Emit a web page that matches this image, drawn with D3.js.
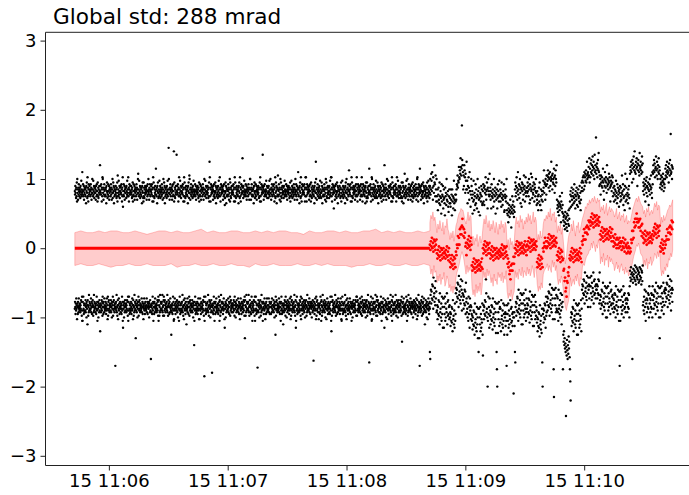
<!DOCTYPE html>
<html><head><meta charset="utf-8">
<script src="https://cdn.jsdelivr.net/npm/d3@7"></script>
<style>html,body{margin:0;padding:0;background:#fff;overflow:hidden}</style>
</head><body><svg id="c" width="689" height="495" style="display:block;background:#fff"></svg>
<script>
// ---------- text / ticks ----------
const titleText = "Global std: 288 mrad";
const yTicks = [-3, -2, -1, 0, 1, 2, 3];
const xTickTimes = ["11:06:00.000", "11:07:00.000", "11:08:00.000", "11:09:00.000", "11:10:00.000"];
const day = "2023-03-15";
const axisStart = "11:05:28.000", axisEnd = "11:11:00.000";
const timeStart = "11:05:42.800", timeSplit = "11:08:42.100", timeEnd = "11:10:44.700";
const yMin = -3.14, yMax = 3.12;

// ---------- value code: value = lo + index * STEP ----------
const CODE = "0123456789abcdefghijklmnopqrstuvwxyzABCDEFGHIJKLMNOPQRSTUVWXYZ!#$%&()*+,-./:;<=>?@[]^_{|}~";
const STEP = 0.025;
const blackLo = 0.2;   // black upper values, and |value| of black lower
const redLo = -1.0;    // red points and band edges

// upper black branch, before the split
const upperFirst = [
"pnsoqlrmujwoqkrntpmqorlspnvmqoApntmpskqornqmrispuolxmrjqtnospqmptnrkqow",
"oqmvnpslroroqkspmtnpjumrlqosnpEpsontqjrmxwoqkrntpmqnqmrispuolpntmpskqor",
"qmptnrkqowloupsirmqnpnsoqlrmujyoqmvnpslropsontqjrmxgpntmpskqororlspnvmqo",
"xmrjqtnosppnsoqlrmujpntmpskqorqmptnrkqowzoqmvnpslronqmrispuoljumrlqosnp",
"roqkspmtnpwoqkrntpmqpsontqjrmxjumrlqosnpCnqmrispuoloqmvnpslroqmptnrkqow",
"loupsirmqnorlspnvmqoOwoqkrntpmqroqkspmtnpMjumrlqosnpKpsontqjrmxoqmvnpslro",
"psontqjrmxjumrlqosnpnqmrispuolywoqkrntpmqorlspnvmqopntmpskqorpnsoqlrmuj",
"pntmpskqorqmptnrkqowoqmvnpslropnsoqlrmujGxmrjqtnosproqkspmtnploupsirmqn",
"orlspnvmqoxmrjqtnosproqkspmtnphloupsirmqnqmptnrkqowjumrlqosnppsontqjrmx",
"jumrlqosnpnqmrispuolxmrjqtnospIorlspnvmqopntmpskqorqmptnrkqowwoqkrntpmq",
"nqmrispuolpntmpskqorpnsoqlrmujxmrjqtnospKroqkspmtnpoqmvnpslroorlspnvmqo",
"woqkrntpmqpsontqjrmxloupsirmqnyqmptnrkqowjumrlqosnporlspnvmqopntmpskqor",
"pnsoqlrmujoqmvnpslroqmptnrkqowpntmpskqorAnqmrispuolxmrjqtnosppsontqjrmx",
"xmrjqtnosproqkspmtnpjumrlqosnpnqmrispuolGwoqkrntpmqorlspnvmqoloupsirmqn",
"qmptnrkqowjumrlqosnporlspnvmqoxxmrjqtnospfroqkspmtnploupsirmqnpnsoqlrmuj",
"oqmvnpslronqmrispuolwoqkrntpmqBpsontqjrmxjumrlqosnproqkspmtnpxmrjqtnosp",
"roqkspmtnpxmrjqtnospnqmrispuoljumrlqosnpCpsontqjrmxwoqkrntpmqorlspnvmqo",
"loupsirmqnpnsoqlrmujpntmpskqorEqmptnrkqowoqmvnpslropsontqjrmxjumrlqosnp",
"psontqjrmxoqmvnpslropnsoqlrmujloupsirmqnzorlspnvmqowoqkrntpmqroqkspmtnp",
"jumrlqosnpqmptnrkqowxmrjqtnospCroqkspmtnploupsirmqnpnsoqlrmujoqmvnpslro"
].join("");

// lower black branch (magnitude), before the split
const lowerFirst = [
"rnquoslrpxqounqtlrpsqotprmsnvkyynskruoptspsmtqownrpAmpvqtjsnrosprltqnuoq",
"mpvqtjsnroqtpourksnyprnwoqtmspEqotprmsnvkqounqtlrpsrnquoslrpxkvnsmrptoq",
"psmtqownrpkvnsmrptoqYornsjtqvpmxprlsouqnrqtpourksnyCprnwoqtmspqotprmsnvk",
"ynskruoptsrnquoslrpxmpvqtjsnroIpsmtqownrpkvnsmrptoqsprltqnuoqxprlsouqnr",
"sprltqnuoqprnwoqtmspUqtpourksnyqounqtlrpsqotprmsnvkympvqtjsnroornsjtqvpm",
"kvnsmrptoqornsjtqvpmqounqtlrpsGqtpourksnyxprlsouqnrpsmtqownrpynskruopts",
"ornsjtqvpmxprlsouqnrAsprltqnuoqkvnsmrptoqpsmtqownrpMynskruoptsrnquoslrpx",
"xprlsouqnrqotprmsnvk&ynskruoptsornsjtqvpmprnwoqtmsp$qtpourksnyqounqtlrps",
"qtpourksnympvqtjsnrornquoslrpxCprnwoqtmspsprltqnuoqkvnsmrptoqqotprmsnvk",
"prnwoqtmspsprltqnuoqxprlsouqnrqotprmsnvkImpvqtjsnroornsjtqvpmqtpourksny",
"qotprmsnvkynskruoptsZpsmtqownrpmpvqtjsnroyrnquoslrpxqounqtlrpssprltqnuoq",
"qounqtlrpspsmtqownrpGkvnsmrptoqsprltqnuoqynskruoptsAqotprmsnvkprnwoqtmsp",
"rnquoslrpxkvnsmrptoqornsjtqvpmCynskruoptsqotprmsnvkxprlsouqnrpsmtqownrp",
"mpvqtjsnrosprltqnuoqprnwoqtmspVrnquoslrpxkvnsmrptoqxqtpourksnympvqtjsnro",
"psmtqownrpxprlsouqnrqtpourksnyEkvnsmrptoqornsjtqvpmqounqtlrpsrnquoslrpx",
"ynskruoptsornsjtqvpmxprlsouqnrsprltqnuoqyprnwoqtmspqotprmsnvkkvnsmrptoq",
"sprltqnuoqkvnsmrptoqpsmtqownrpmpvqtjsnroWqtpourksnyxprlsouqnrornsjtqvpm",
"kvnsmrptoqqtpourksnyqounqtlrpsCpsmtqownrpxprlsouqnrornsjtqvpmynskruopts",
"ornsjtqvpmprnwoqtmspqotprmsnvkKqounqtlrpsqtpourksnympvqtjsnrosprltqnuoq",
"prnwoqtmsprnquoslrpxmpvqtjsnroYqotprmsnvkqounqtlrpsApsmtqownrpxprlsouqnr"
].join("");

// upper black branch, after the split
const upperSecond = [
"swnqzvpArkxsoEutmyqjw","mjqenrkiumhplctjnmsfkqlibrmohwknjpgdmqi","ligqknbqjmflvikenj",
"nkqtsyrvuDxwBzIDyC#HE","AqysEBxozvqG","qvisoxrkAppgnws","lpcnjvkeomhtiqlfnwmpdkrlbonjsmqhi",
"ptjrhsoqxnkpuqfrwnpmz","nrkpftmolqgnwjpmrcoknqfltpmjvn","mqjogulnhkpmtdenlqjmw",
"ecib7fdhaekcg4dfmhcjeagd","qumsoxrkpAnqtlswoirqguptkrnyqsjoxpmr","roupsmwqitkrzpqxlsonuqjtrmpwoh",
"kpimenrjuhhmqekpnj","pvrBoutkwsny","tyvBxrzwpAsxvGwyqzuwtCxoysBwuE","kfhdjgbiemhg7jfodh",
"c8a5b73d96a4c28b6e59f","jnpgmrkhomqiltjnfpmkrhongqlmjsioekpu","rvpxuyqAsxzvBuyGwzAxDyIu",
"CxFAHzEBJDyGCwKAEBUzDFxCHBLAsy","twnyusxrvCupkwsAvrxuoEswtqvzuxrjsvtpyux",
"mrojsnqkpvmoitlrnpgqosjmrkoynpthlqmeszjnrkwomiqnslf","zDBGAEuHCFwJDBMAEzGCIDsFBHEAyLCDGBzEJAF",
"pusnwqtjrvoxsmruqhptwnsqyrolAt","zEBHAFxCDJByGCwEAIzDB","rwtyuqxsvzupwtr","wCyEAxGBzDAuFCyHBWzAEwDC"
].join("");

// lower black branch (magnitude), after the split
const lowerSecond = [
"QUjgohldmer9kinfpblht","spxqumvnAitrwoykuqCllCqukyowrtiAnvmuqxp","wtBuyqzrEmxvAsCoyu",
"ifngkcldq8jhmeoakgsbi","mjrkogphucnl","trwoykuqClspxqu","yvDwAsBtGozxCuEqAwIrQrIwAqEuCxzoG",
"Sspxqumvnaitrw-ykuqCl","vsAtxpyqDlwuzrBnxtFoQ!-oFtxnBr","qzrEmxvAsCoyuGpwtBuyY",
"pGuyoCsAvxmErzqyuBtw;wtB","QWqnvoskltygrpumwisoAjjAosiwmuprgytl","rowptlumzhsqvnxjtpBkkBptjxnvqs",
"zwExBtCuHpAyDvFrW-","urzswoxpCkvt","nkslphqivdomrjtfplxg!=gxlpftjr","skltygrpumwisoAjqn",
"!GKEMIOLQ~NSJPUMRHOKT","!*?wtBuyqzrEmxvAsCoyuGppGuyoCsAvxmEr","gdleiajbo6hfkcm8ieq9gdle",
"9qei8mckfh6objaieldggdleiajbo6","mjrkogphucnlqiseokwffwkoesiqlncuhpgokrj",
"oltmqirjwepnskugqmyhYhymqgukspnewjriqmtlooltmqirjwe","59b37a6U8c4795a2b6d3894a57c6b38a49d56b2",
"pnskugqmyholtmqirjweoltmqirjwe","mjrkogphucnlqiseokwfI","fwkoesiqlncuhpg","ifngkcldq8jhmeoakgsbifng"
].join("");

// red estimate: flat at 0 before the split, then varying
const redFirst = "EEEEEEEEEEEEEEEEEEEEEEEEEEEEEEEEEEEEEEEE";
const redSecond = [
"GDIFKEHCJFIDGJ","ByDAFzCxEADyBEzCByDAFzCxEA","wtyvAuxszvyt","CAGELGKGPMQMRV","QLPKNFHA",
"HEJGLFIDKG","urwtysvqxtwruxsvurwtys","EBGDICFAHDGBEH","ByDAFzCxEADyBEzCByDA","CzEBGADyFBEzCF",
"Avytwprmurvrvzvz","EBGDICFAHDGBEHCFEBGDICFA","GDIFKEHCJFIDGJEHGDIF","wtyvAuxszvyt","ECHFKFIE",
"IFKHMGJELHKFILGJIFKH","AxCzEyBwDzCx","yrslnfhclkqoty","AxCzEyBwDzCxADyBAxCzEyBw","IGLJPJNJQNRMQUPT",
"URWTYSVQXTWRUXSVURWT","MJOLQKNIPLOJMPKNMJOLQKNIPL","IFKHMGJEKGJEHKFIHDIFKEHCJFGBEHCFEB",
"ECJHOJOKTQVRVYTVTQUQVORLSN","KHMJOILGNJMHKNILKHMJ","OLQNSMPKRNQLOR","FCHEJDGBIE","IGLJPJNJQNRMQUPT"
].join("");

// red band edges
const bandUpperFirst = "NONNONOONNONMNOONONNOPNONNOONNONONOONNMONNOONONNOOPNONONNONO";
const bandLowerFirst = "uvuuvutuuvuuvuuuvtuuvuuvuuvuutvuuvuuuvuuvuvuuutuuvuuvuuvuuvu";
const bandUpperSecond = ["TXVZUWS","NSPUQOTMRQVPN","JNKOIM","RTWYZ#!","!XUS","VZUXW","HLGKIMFJLHK","RVSXTQU",
"OSPURNTQMS","PUQSNTR","FJDKGIEH","RWSUQXTVPUSW","TYUXSVZTWU","IMJOKL","SVUX","VZW#UYXZTW","NROSMQ",
"IBvzFKN","NSOUPLRQTNPS","VXZ$#&%)","&)*(+)&*()","Z$!%Y#&X!$Z#!","ZWY#VXZUXWYTVXSUT","UX!$&)*(+)&%$",
"Y!W#Z$XZ!Y","#&$(!%$","SWTXU","WY!#%$&)"].join("");
const bandLowerSecond = ["tpsnuqr","kolpjnmqikomh","jfieig","nqsuxAC","Axtp","uqtrv","hdgcjeifkdh","rnqlsor",
"okniplmjqn","plqkomr","fbecgadf","rnqmspotnrqo","tpsoqurnts","jfigkh","prst","vrusqxtwru","njmkol",
"fa6479d","nikmjolpkinm","tvuxzABD","DHEIFCGEJF","vzwBuyxAtzwyv","vrtwsuqtvrsptqrop","rtwzBDGFHEBAz",
"txuyswvzuw","xBAyCzD","sorpt","rvtyxBzD"].join("");

// ---------- helpers ----------
const T = s => new Date(day + "T" + s + "Z");
const decode = (s, lo, sign = 1) => Array.from(s).map(c => CODE.indexOf(c)).filter(k => k >= 0).map(k => sign * (lo + k * STEP));
const spread = (vals, a, b) => vals.map((v, i) => ({t: new Date(+a + (b - a) * i / Math.max(1, vals.length - 1)), v}));
const t0 = T(timeStart), t1 = T(timeSplit), t2 = T(timeEnd);

const black = [
  ...spread(decode(upperFirst, blackLo), t0, t1),
  ...spread(decode(lowerFirst, blackLo, -1), t0, t1),
  ...spread(decode(upperSecond, blackLo), t1, t2),
  ...spread(decode(lowerSecond, blackLo, -1), t1, t2)
];
const redA = spread(decode(redFirst, redLo), t0, t1);
const redB = spread(decode(redSecond, redLo), t1, t2);
const bandUp = [...spread(decode(bandUpperFirst, redLo), t0, t1), ...spread(decode(bandUpperSecond, redLo), t1, t2)];
const bandLo = [...spread(decode(bandLowerFirst, redLo), t0, t1), ...spread(decode(bandLowerSecond, redLo), t1, t2)];

// ---------- chart ----------
const svg = d3.select("#c");
const L = 45.5, R = 703, TOP = 32.3, BOT = 465.5;
const x = d3.scaleUtc().domain([T(axisStart), T(axisEnd)]).range([L, R]);
const y = d3.scaleLinear().domain([yMin, yMax]).range([BOT, TOP]);
const font = "DejaVu Sans, Verdana, sans-serif";

// band
const poly = bandUp.concat(bandLo.slice().reverse());
svg.append("path")
  .attr("d", d3.line().x(d => x(d.t)).y(d => y(d.v))(poly) + "Z")
  .attr("fill", "rgba(255,0,0,0.2)")
  .attr("stroke", "rgba(255,0,0,0.22)")
  .attr("stroke-width", 1);

// black points
svg.append("g").selectAll("circle").data(black).join("circle")
  .attr("cx", d => x(d.t)).attr("cy", d => y(d.v)).attr("r", 1.2).attr("fill", "#000");

// red
svg.append("path")
  .attr("d", d3.line().x(d => x(d.t)).y(d => y(d.v))(redA))
  .attr("fill", "none").attr("stroke", "#ff0000").attr("stroke-width", 3);
svg.append("g").selectAll("circle").data(redB).join("circle")
  .attr("cx", d => x(d.t)).attr("cy", d => y(d.v)).attr("r", 1.4).attr("fill", "#ff0000");

// spines
const sp = svg.append("g").attr("stroke", "#222").attr("stroke-width", 1).attr("fill", "none");
sp.append("line").attr("x1", L).attr("x2", L).attr("y1", TOP).attr("y2", BOT);
sp.append("line").attr("x1", L).attr("x2", R).attr("y1", TOP).attr("y2", TOP);
sp.append("line").attr("x1", L).attr("x2", R).attr("y1", BOT).attr("y2", BOT);
sp.append("line").attr("x1", R).attr("x2", R).attr("y1", TOP).attr("y2", BOT);

// axes
const gx = svg.append("g").attr("transform", `translate(0,${BOT})`)
  .call(d3.axisBottom(x).tickValues(xTickTimes.map(T)).tickFormat(d3.utcFormat("%d %H:%M"))
    .tickSize(5).tickPadding(4).tickSizeOuter(0));
const gy = svg.append("g").attr("transform", `translate(${L},0)`)
  .call(d3.axisLeft(y).tickValues(yTicks).tickFormat(d => d < 0 ? "\u2212" + Math.abs(d) : String(d))
    .tickSize(5).tickPadding(4).tickSizeOuter(0));
[gx, gy].forEach(g => {
  g.select(".domain").remove();
  g.selectAll("line").attr("stroke", "#222");
  g.selectAll("text").attr("fill", "#000").style("font-family", font).style("font-size", "18px");
});

// title
svg.append("text").attr("x", 53).attr("y", 24)
  .style("font-family", font).style("font-size", "21.6px").attr("fill", "#000")
  .text(titleText);
</script>
</body></html>
